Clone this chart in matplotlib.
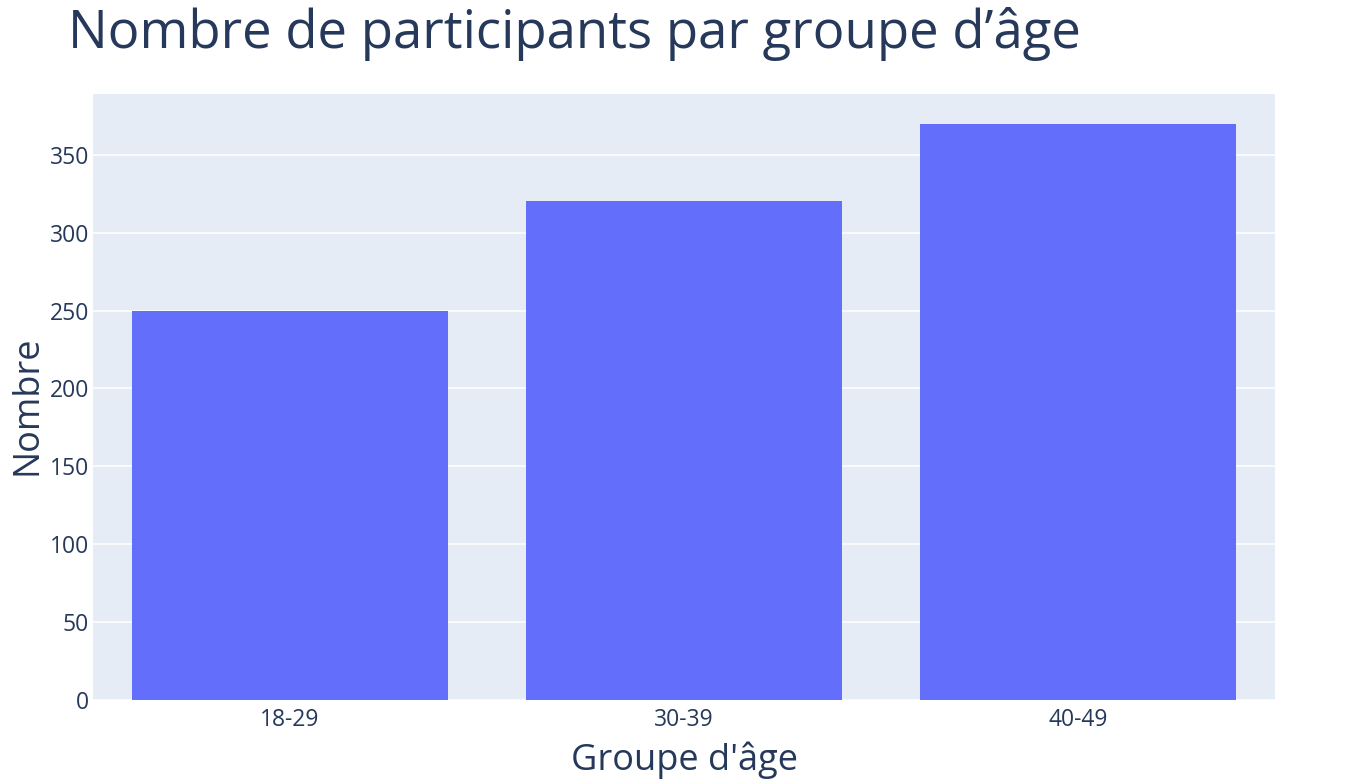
import matplotlib
matplotlib.use("Agg")
import matplotlib.pyplot as plt

categories = ["18-29", "30-39", "40-49"]
values = [250, 320, 370]
yticks = [0, 50, 100, 150, 200, 250, 300, 350]

plt.rcParams['font.family'] = ['Open Sans', 'DejaVu Sans']
text_color = "#26395a"

W, H = 1350, 784
fig = plt.figure(figsize=(W / 100, H / 100), dpi=100)
ax = fig.add_axes([93 / W, 1 - 700 / H, (1275 - 93) / W, (700 - 94) / H])
ax.set_facecolor("#e5ecf6")

x = list(range(len(categories)))
ax.bar(x, values, width=0.8, color="#636efa", zorder=3)
ax.set_xlim(-0.5, len(categories) - 0.5)
ax.set_ylim(0, 389)
ax.set_yticks(yticks)
ax.set_yticklabels([str(v) for v in yticks])
ax.set_xticks(x)
ax.set_xticklabels(categories)
ax.grid(axis="y", color="white", linewidth=1.1, zorder=1)
ax.set_axisbelow(True)
for s in ax.spines.values():
    s.set_visible(False)
ax.tick_params(axis="both", length=0, labelsize=16.5, colors=text_color, pad=3)
ax.tick_params(axis="x", pad=6)

ax.set_ylabel("Nombre", fontsize=26, color=text_color)
ax.set_xlabel("Groupe d'âge", fontsize=26, color=text_color)
ax.yaxis.set_label_coords(27 / W, 1 - 405 / H, transform=fig.transFigure)
ax.xaxis.set_label_coords(684 / W, 1 - 760 / H, transform=fig.transFigure)
ax.yaxis.label.set_verticalalignment("center")
ax.xaxis.label.set_verticalalignment("center")

fig.text(68 / W, 1 - 48 / H, "Nombre de participants par groupe d’âge",
         fontsize=38, color=text_color, ha="left", va="baseline")

fig.savefig("out.png", dpi=100, facecolor="white")
